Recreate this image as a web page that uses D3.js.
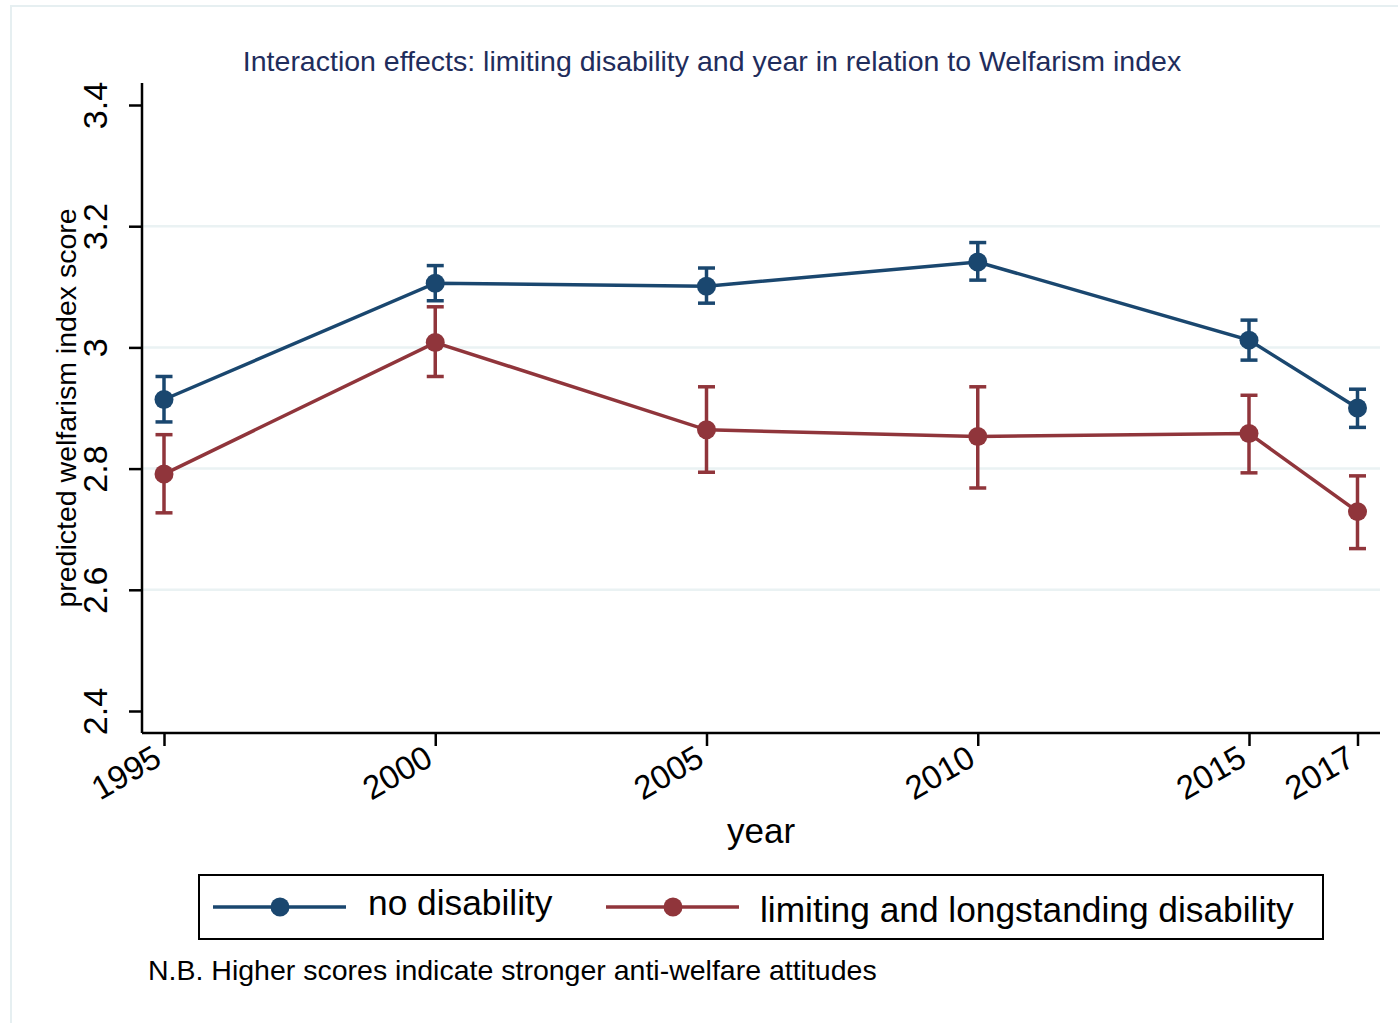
<!DOCTYPE html>
<html>
<head>
<meta charset="utf-8">
<script src="https://cdn.jsdelivr.net/npm/d3@7"></script>
<style>
    body { margin: 0; background: #fff; }
    svg text { font-family: "Liberation Sans", Arial, sans-serif; }
</style>
</head>
<body>
<div id="chart"></div>
<script>
// Data
const years = [1995, 2000, 2005, 2010, 2015, 2017];
const yTicks = [2.4, 2.6, 2.8, 3.0, 3.2, 3.4];
const gridTicks = [2.6, 2.8, 3.0, 3.2];

const noDisEst = [2.914, 3.106, 3.101, 3.141, 3.012, 2.900];
const noDisLo  = [2.877, 3.077, 3.073, 3.111, 2.979, 2.868];
const noDisHi  = [2.952, 3.135, 3.131, 3.173, 3.045, 2.931];

const disEst = [2.791, 3.008, 2.864, 2.853, 2.858, 2.729];
const disLo  = [2.727, 2.952, 2.794, 2.768, 2.793, 2.668];
const disHi  = [2.856, 3.067, 2.935, 2.935, 2.921, 2.788];

const seriesNames = ['no disability', 'limiting and longstanding disability'];
const colors = ['#1a476f', '#90353b'];

const W = 1398, H = 1023;
const svg = d3.select('#chart').append('svg')
    .attr('width', W)
    .attr('height', H);

// Outer graph frame
svg.append('rect')
    .attr('x', 11).attr('y', 6)
    .attr('width', W).attr('height', H)
    .attr('fill', '#fff')
    .attr('stroke', '#e6eff1')
    .attr('stroke-width', 2);

// Plot area
const plot = { left: 142, right: 1380, top: 83, bottom: 733 };

const x = d3.scaleLinear()
    .domain([1995, 2017])
    .range([164, 1357.5]);

const y = d3.scaleLinear()
    .domain([2.4, 3.4])
    .range([711, 105]);

// Grid lines
svg.append('g')
    .selectAll('line')
    .data(gridTicks)
    .enter()
    .append('line')
    .attr('x1', plot.left)
    .attr('x2', plot.right)
    .attr('y1', d => y(d))
    .attr('y2', d => y(d))
    .attr('stroke', '#eaf2f3')
    .attr('stroke-width', 2.5);

// Y axis
const yAxis = svg.append('g')
    .attr('transform', `translate(${plot.left},0)`)
    .call(d3.axisLeft(y).tickValues(yTicks).tickSize(13).tickSizeOuter(0).tickFormat(d => d3.format('')(d)));
yAxis.select('.domain').remove();
yAxis.append('line')
    .attr('x1', 0).attr('x2', 0)
    .attr('y1', plot.top).attr('y2', plot.bottom)
    .attr('stroke', '#000').attr('stroke-width', 2.5);
yAxis.selectAll('.tick line').attr('stroke', '#000').attr('stroke-width', 2.5);
yAxis.selectAll('.tick text')
    .attr('font-size', 34)
    .attr('fill', '#000')
    .attr('text-anchor', 'middle')
    .attr('x', 0).attr('dy', 0)
    .attr('transform', 'translate(-35,0) rotate(-90)');

// X axis
const xAxis = svg.append('g')
    .attr('transform', `translate(0,${plot.bottom})`)
    .call(d3.axisBottom(x).tickValues(years).tickSize(13).tickSizeOuter(0).tickFormat(d3.format('d')));
xAxis.select('.domain').remove();
xAxis.append('line')
    .attr('x1', plot.left).attr('x2', plot.right)
    .attr('y1', 0).attr('y2', 0)
    .attr('stroke', '#000').attr('stroke-width', 2.5);
xAxis.selectAll('.tick line').attr('stroke', '#000').attr('stroke-width', 2.5);
xAxis.selectAll('.tick text')
    .attr('font-size', 33)
    .attr('fill', '#000')
    .attr('text-anchor', 'end')
    .attr('y', 0).attr('dy', 0)
    .attr('transform', 'translate(-1,31) rotate(-30)');

// Axis titles
svg.append('text')
    .attr('transform', `translate(76,${(plot.top + plot.bottom) / 2}) rotate(-90)`)
    .attr('text-anchor', 'middle')
    .attr('font-size', 28.5)
    .attr('fill', '#000')
    .text('predicted welfarism index score');

svg.append('text')
    .attr('x', (plot.left + plot.right) / 2)
    .attr('y', 843)
    .attr('text-anchor', 'middle')
    .attr('font-size', 35)
    .attr('fill', '#000')
    .text('year');

// Title
svg.append('text')
    .attr('x', 712)
    .attr('y', 71)
    .attr('text-anchor', 'middle')
    .attr('font-size', 28.5)
    .attr('fill', '#1f2d5c')
    .text('Interaction effects: limiting disability and year in relation to Welfarism index');

// Series
const series = [
    { name: seriesNames[0], color: colors[0], est: noDisEst, lo: noDisLo, hi: noDisHi },
    { name: seriesNames[1], color: colors[1], est: disEst, lo: disLo, hi: disHi }
];

const line = d3.line()
    .x(d => x(d.year))
    .y(d => y(d.v));

series.slice().reverse().forEach(s => {
    const pts = years.map((yr, i) => ({ year: yr, v: s.est[i], lo: s.lo[i], hi: s.hi[i] }));
    const g = svg.append('g');

    g.append('path')
        .datum(pts)
        .attr('d', line)
        .attr('fill', 'none')
        .attr('stroke', s.color)
        .attr('stroke-width', 3.5);

    // Error bars
    g.selectAll('.ci')
        .data(pts)
        .enter()
        .append('line')
        .attr('x1', d => x(d.year)).attr('x2', d => x(d.year))
        .attr('y1', d => y(d.lo)).attr('y2', d => y(d.hi))
        .attr('stroke', s.color).attr('stroke-width', 3.5);

    ['lo', 'hi'].forEach(k => {
        g.selectAll('.cap-' + k)
            .data(pts)
            .enter()
            .append('line')
            .attr('x1', d => x(d.year) - 8.5).attr('x2', d => x(d.year) + 8.5)
            .attr('y1', d => y(d[k])).attr('y2', d => y(d[k]))
            .attr('stroke', s.color).attr('stroke-width', 3.5);
    });

    g.selectAll('circle')
        .data(pts)
        .enter()
        .append('circle')
        .attr('cx', d => x(d.year))
        .attr('cy', d => y(d.v))
        .attr('r', 9.5)
        .attr('fill', s.color);
});

// Legend
const legend = svg.append('g');
legend.append('rect')
    .attr('x', 199).attr('y', 875)
    .attr('width', 1124).attr('height', 64)
    .attr('fill', '#fff')
    .attr('stroke', '#000')
    .attr('stroke-width', 2);

const legendItems = [
    { x0: 213, tx: 368, ty: 915, s: series[0] },
    { x0: 606, tx: 760, ty: 922, s: series[1] }
];
legendItems.forEach(it => {
    legend.append('line')
        .attr('x1', it.x0).attr('x2', it.x0 + 133)
        .attr('y1', 907).attr('y2', 907)
        .attr('stroke', it.s.color).attr('stroke-width', 3.5);
    legend.append('circle')
        .attr('cx', it.x0 + 67).attr('cy', 907)
        .attr('r', 9.5)
        .attr('fill', it.s.color);
    legend.append('text')
        .attr('x', it.tx).attr('y', it.ty)
        .attr('font-size', 35.3)
        .attr('fill', '#000')
        .text(it.s.name);
});

// Note
svg.append('text')
    .attr('x', 148)
    .attr('y', 980)
    .attr('font-size', 28.5)
    .attr('fill', '#000')
    .text('N.B. Higher scores indicate stronger anti-welfare attitudes');
</script>
</body>
</html>
